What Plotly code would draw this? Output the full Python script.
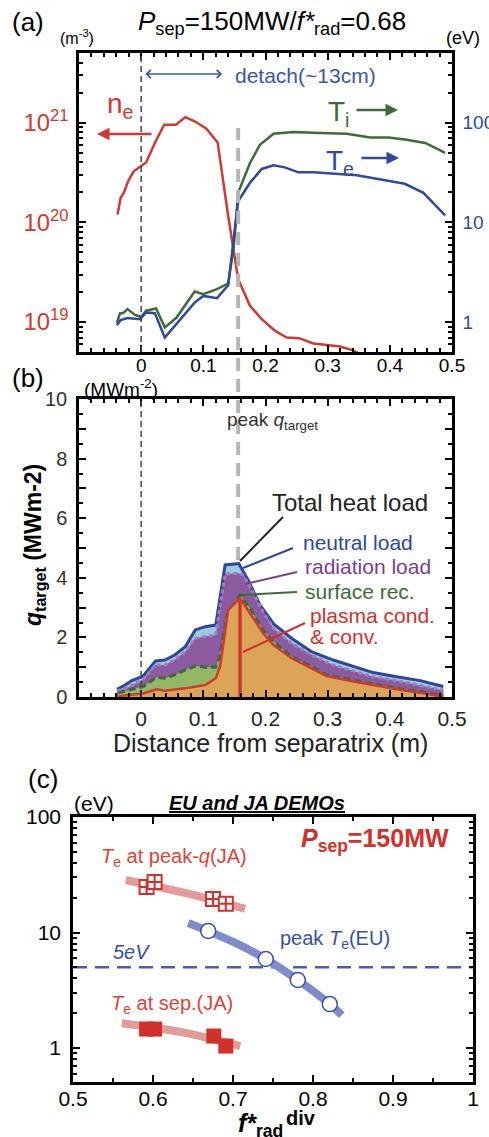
import plotly.graph_objects as go

W, H = 489, 1137
FONT = "Liberation Sans, Arial, sans-serif"
RED = "#cc3a33"
GREEN = "#3f6b37"
BLUE = "#2f4a9c"

# ---------------- Panel (a) data ----------------
x_ne = [-0.038, -0.033, -0.028, -0.021, -0.012, 0.0, 0.008, 0.022, 0.037, 0.056, 0.071, 0.087,
        0.105, 0.123, 0.140, 0.156, 0.175, 0.194, 0.215, 0.234, 0.254, 0.277, 0.298, 0.320, 0.341, 0.360]
ne = [1.2e20, 1.77e20, 1.98e20, 2.59e20, 3.26e20, 3.66e20, 4.0e20, 6.27e20, 9.55e20, 9.55e20, 1.14e21, 1.03e21,
      8.7e20, 6.35e20, 1.16e20, 2.7e19, 1.46e19, 1.07e19, 8.2e18, 7.0e18, 6.9e18, 6.1e18, 5.9e18, 5.7e18, 5.2e18, 4.5e18]

x_ti = [-0.039, -0.034, -0.029, -0.022, -0.010, 0.0, 0.008, 0.024, 0.038, 0.057, 0.086, 0.100, 0.122,
        0.140, 0.149, 0.156, 0.175, 0.191, 0.213, 0.245, 0.288, 0.331, 0.368, 0.398, 0.427, 0.457, 0.489]
ti = [0.98, 1.23, 1.23, 1.35, 1.18, 1.13, 1.30, 1.37, 0.885, 1.11, 2.03, 1.91, 2.14,
      2.44, 5.8, 19.8, 39.5, 60, 77.6, 80.7, 78.9, 77.6, 71.3, 71.3, 67.6, 62.7, 49.8]

x_te = [-0.039, -0.033, -0.022, -0.002, 0.008, 0.022, 0.038, 0.057, 0.086, 0.100, 0.122, 0.140,
        0.156, 0.175, 0.194, 0.213, 0.231, 0.253, 0.277, 0.347, 0.384, 0.424, 0.454, 0.489]
te = [0.93, 1.05, 1.10, 1.07, 1.25, 1.23, 0.70, 0.955, 1.57, 1.83, 1.74, 2.34,
      16.3, 25, 34.4, 37.4, 35.7, 31.8, 31.8, 29.7, 26.9, 24.4, 19.8, 11.8]

x_peak_q = 0.156
x_separatrix = 0.0

# ---------------- Panel (b) data (cumulative heat-load boundaries, MW/m2) ----------------
x_total = [-0.039, -0.026, -0.015, -0.005, 0.003, 0.023, 0.038, 0.054, 0.071, 0.087, 0.103, 0.120,
           0.135, 0.157, 0.172, 0.191, 0.213, 0.242, 0.274, 0.309, 0.344, 0.373, 0.411, 0.449, 0.486]
q_total = [0.26, 0.40, 0.55, 0.63, 0.70, 1.21, 1.24, 1.41, 1.69, 2.25, 2.36, 2.42,
           4.43, 4.48, 3.93, 3.09, 2.45, 1.97, 1.52, 1.24, 1.02, 0.82, 0.68, 0.55, 0.35]

x_rad = [-0.039, -0.021, 0.003, 0.023, 0.038, 0.054, 0.071, 0.087, 0.103, 0.120, 0.135, 0.157,
         0.164, 0.175, 0.196, 0.213, 0.242, 0.274, 0.309, 0.344, 0.373, 0.411, 0.449, 0.486]
q_rad = [0.20, 0.33, 0.59, 1.07, 1.07, 1.25, 1.52, 1.97, 2.03, 2.08, 4.13, 4.15,
         4.09, 3.70, 2.86, 2.30, 1.80, 1.41, 1.07, 0.85, 0.68, 0.55, 0.40, 0.23]

x_surf = [-0.037, -0.021, 0.003, 0.025, 0.038, 0.054, 0.071, 0.087, 0.103, 0.120, 0.127, 0.138, 0.146,
          0.159, 0.175, 0.196, 0.213, 0.242, 0.274, 0.298, 0.344, 0.373, 0.411, 0.449, 0.486]
q_surf = [0.14, 0.23, 0.35, 0.66, 0.63, 0.74, 0.91, 1.04, 1.0, 1.0, 1.41, 2.75, 3.03,
          3.42, 2.98, 2.25, 1.86, 1.35, 1.02, 0.74, 0.55, 0.44, 0.29, 0.18, 0.03]

x_plasma = [-0.037, -0.021, 0.003, 0.025, 0.038, 0.071, 0.103, 0.120, 0.127, 0.140, 0.159,
            0.175, 0.196, 0.213, 0.242, 0.274, 0.298, 0.344, 0.373, 0.411, 0.449, 0.486]
q_plasma = [0.01, 0.07, 0.12, 0.26, 0.21, 0.29, 0.40, 0.63, 1.02, 2.92, 3.31,
            2.81, 2.14, 1.74, 1.30, 0.96, 0.70, 0.51, 0.40, 0.26, 0.14, 0.01]

# ---------------- Panel (c) data ----------------
frad_peakq = [0.592, 0.602, 0.675, 0.691]
te_peakq = [24.8, 27.4, 19.5, 17.7]
trend_peakq_x = [0.566, 0.640, 0.715]
trend_peakq_y = [28.5, 22.0, 16.0]

frad_eu = [0.669, 0.741, 0.781, 0.821]
te_eu = [10.3, 5.9, 3.88, 2.4]
trend_eu_x = [0.644, 0.669, 0.705, 0.741, 0.781, 0.821, 0.836]
trend_eu_y = [12.1, 10.3, 8.0, 5.9, 3.88, 2.4, 1.93]

frad_sep = [0.592, 0.602, 0.676, 0.691]
te_sep = [1.46, 1.46, 1.27, 1.04]
trend_sep_x = [0.561, 0.634, 0.709]
trend_sep_y = [1.64, 1.38, 1.04]

te_threshold = 5.0


def PX(x):
    return x / W


def PY(y):
    return 1 - y / H


fig = go.Figure()

# ---- panel (a) traces ----
fig.add_trace(go.Scatter(x=x_ne, y=ne, mode="lines", line=dict(color=RED, width=2.5),
                         xaxis="x", yaxis="y"))
fig.add_trace(go.Scatter(x=x_ti, y=ti, mode="lines", line=dict(color=GREEN, width=2.5),
                         xaxis="x", yaxis="y2"))
fig.add_trace(go.Scatter(x=x_te, y=te, mode="lines", line=dict(color=BLUE, width=2.5),
                         xaxis="x", yaxis="y2"))

# ---- panel (b) traces (drawn top layer first so lower layers overlay) ----
fig.add_trace(go.Scatter(x=x_total, y=q_total, mode="lines", fill="tozeroy",
                         fillcolor="#9bcae2", line=dict(color="#2d479a", width=3),
                         xaxis="x2", yaxis="y3"))
fig.add_trace(go.Scatter(x=x_rad, y=q_rad, mode="lines", fill="tozeroy",
                         fillcolor="#8c5a9e", line=dict(color="#a27ebb", width=3, dash="4px,3px"),
                         xaxis="x2", yaxis="y3"))
fig.add_trace(go.Scatter(x=x_surf, y=q_surf, mode="lines", fill="tozeroy",
                         fillcolor="#93b865", line=dict(color="#3c6a3a", width=3, dash="7px,4px"),
                         xaxis="x2", yaxis="y3"))
fig.add_trace(go.Scatter(x=x_plasma, y=q_plasma, mode="lines", fill="tozeroy",
                         fillcolor="#dca456", line=dict(color="#cf3a2f", width=2.5),
                         xaxis="x2", yaxis="y3"))
ipk = q_plasma.index(max(q_plasma))
fig.add_trace(go.Scatter(x=[x_plasma[ipk], x_plasma[ipk]], y=[0, q_plasma[ipk]], mode="lines",
                         line=dict(color="#cf3a2f", width=3.5), xaxis="x2", yaxis="y3"))

# ---- panel (c) traces ----
fig.add_trace(go.Scatter(x=[0.5, 1.0], y=[te_threshold, te_threshold], mode="lines",
                         line=dict(color="#4a5db3", width=2.5, dash="14px,8px"), xaxis="x3", yaxis="y4"))
fig.add_trace(go.Scatter(x=trend_peakq_x, y=trend_peakq_y, mode="lines", line_shape="spline",
                         line=dict(color="#e39a98", width=8), xaxis="x3", yaxis="y4"))
fig.add_trace(go.Scatter(x=trend_sep_x, y=trend_sep_y, mode="lines", line_shape="spline",
                         line=dict(color="#e39a98", width=8), xaxis="x3", yaxis="y4"))
fig.add_trace(go.Scatter(x=trend_eu_x, y=trend_eu_y, mode="lines", line_shape="spline",
                         line=dict(color="#7f8cc9", width=8), xaxis="x3", yaxis="y4"))
fig.add_trace(go.Scatter(x=frad_peakq, y=te_peakq, mode="markers",
                         marker=dict(symbol="square-cross", size=14, color="white",
                                     line=dict(color="#d0312d", width=2)), xaxis="x3", yaxis="y4"))
fig.add_trace(go.Scatter(x=frad_sep, y=te_sep, mode="markers",
                         marker=dict(symbol="square", size=15, color="#d0312d",
                                     line=dict(color="#d0312d", width=0)), xaxis="x3", yaxis="y4"))
fig.add_trace(go.Scatter(x=frad_eu, y=te_eu, mode="markers",
                         marker=dict(symbol="circle", size=15, color="white",
                                     line=dict(color="#3a4fa0", width=1.5)), xaxis="x3", yaxis="y4"))

axis_common = dict(showline=True, linecolor="black", linewidth=2.5, ticks="inside", tickcolor="black",
                   tickwidth=2, ticklen=7, showgrid=False, zeroline=False, automargin=False)
minor_common = dict(ticks="inside", ticklen=4, tickwidth=1.5, tickcolor="black", showgrid=False)

xa_dom = [79 / W, 452 / W]
xtv = [-0.1, 0, 0.1, 0.2, 0.3, 0.4, 0.5]
xtt = ["", "0", "0.1", "0.2", "0.3", "0.4", "0.5"]

fig.update_layout(
    width=W, height=H, autosize=False, margin=dict(l=0, r=0, t=0, b=0, autoexpand=False),
    paper_bgcolor="white", plot_bgcolor="white", showlegend=False,
    font=dict(family=FONT, color="black"),
    xaxis=dict(axis_common, domain=xa_dom, anchor="y", range=[-0.1, 0.5], tickmode="array",
               tickvals=xtv, ticktext=xtt, mirror="ticks", ticklabelstandoff=-6,
               minor=dict(minor_common, dtick=0.02, tick0=0),
               tickfont=dict(size=19, color="black")),
    yaxis=dict(axis_common, domain=[PY(352), PY(53)], anchor="x", type="log", range=[18.7, 21.7],
               dtick=1, exponentformat="power", side="left", ticklabelstandoff=4,
               minor=dict(minor_common, dtick="D1"), tickfont=dict(size=19, color=RED)),
    yaxis2=dict(axis_common, overlaying="y", anchor="x", side="right", type="log", range=[-0.3, 2.7],
                dtick=1, ticklabelstandoff=4, minor=dict(minor_common, dtick="D1"),
                tickfont=dict(size=19, color=BLUE)),
    xaxis2=dict(axis_common, domain=xa_dom, anchor="y3", range=[-0.1, 0.5], tickmode="array",
                tickvals=xtv, ticktext=xtt, mirror="ticks", ticklabelstandoff=1,
                minor=dict(minor_common, dtick=0.02, tick0=0),
                tickfont=dict(size=21, color="#222")),
    yaxis3=dict(axis_common, domain=[PY(697), PY(399)], anchor="x2", range=[0, 10], tickmode="array",
                tickvals=list(range(0, 11)),
                ticktext=[str(v) if v % 2 == 0 else "" for v in range(0, 11)],
                mirror="ticks", ticklabelstandoff=5, minor=dict(minor_common, dtick=0.5, tick0=0),
                tickfont=dict(size=20, color="#333")),
    xaxis3=dict(axis_common, domain=[73 / W, 473 / W], anchor="y4", range=[0.5, 1.0], dtick=0.1,
                tick0=0.5, mirror="ticks", ticklabelstandoff=-4,
                minor=dict(minor_common, dtick=0.05, tick0=0.5),
                tickfont=dict(size=21, color="black")),
    yaxis4=dict(axis_common, domain=[PY(1082), PY(817)], anchor="x3", type="log", range=[-0.294, 2],
                dtick=1, mirror="ticks", ticklabelstandoff=5, minor=dict(minor_common, dtick="D1"),
                tickfont=dict(size=21, color="black")),
)

ann = []


def T(text, x, y, size, color="black", xanchor="center", yanchor="middle", angle=0):
    ann.append(dict(text=text, x=PX(x), y=PY(y), xref="paper", yref="paper", showarrow=False,
                    xanchor=xanchor, yanchor=yanchor, textangle=angle,
                    font=dict(family=FONT, size=size, color=color)))


def ARROW(hx, hy, tx, ty, color, width=2.5, head=2, size=1.0, both=False):
    ann.append(dict(text="", x=PX(hx), y=PY(hy), xref="paper", yref="paper", showarrow=True,
                    ax=tx - hx, ay=ty - hy, axref="pixel", ayref="pixel",
                    arrowcolor=color, arrowwidth=width, arrowhead=head, arrowsize=size,
                    startarrowhead=head, startarrowsize=size,
                    arrowside="end+start" if both else "end"))


# panel (a) text
T("(a)", 28, 22, 26)
T("(m<sup>-3</sup>)", 77, 37, 16)
T("<i>P</i><sub>sep</sub>=150MW/<i>f*</i><sub>rad</sub>=0.68", 272, 22, 26)
T("(eV)", 463, 38, 18)
T("detach(~13cm)", 305, 75, 21, "#3d55a8")
T("n<sub>e</sub>", 120, 106, 28, RED)
T("T<sub>i</sub>", 338, 114, 28, GREEN)
T("T<sub>e</sub>", 340, 162, 28, BLUE)
ARROW(97, 134, 153, 134, RED)
ARROW(222, 74, 144, 74, "#3d55a8", width=1.3, head=4, size=1.2, both=True)
ARROW(398, 110, 355, 110, GREEN)
ARROW(399, 158, 360, 158, BLUE)

# panel (b) text
T("(b)", 28, 378, 26)
T("(MWm<sup>-2</sup>)", 121, 388, 19)
T("peak <i>q</i><sub>target</sub>", 272, 421, 19, "#333")
T("Total heat load", 270, 502, 24, "#222", xanchor="left")
T("neutral load", 301, 542, 21, "#2d479a", xanchor="left")
T("radiation load", 303, 566, 21, "#7b3d8f", xanchor="left")
T("surface rec.", 303, 591, 21, "#3c6b3a", xanchor="left")
T("plasma cond.", 308, 615, 21, "#d0312d", xanchor="left")
T("&amp; conv.", 308, 636, 21, "#d0312d", xanchor="left")
T("<b><i>q</i><sub>target</sub> (MWm-2)</b>", 34, 545, 23, angle=-90)
T("Distance from separatrix (m)", 270, 743, 25, "#222")

# panel (c) text
T("(c)", 43, 779, 26)
T("(eV)", 94, 803, 21)
T("<b><i><u>EU and JA DEMOs</u></i></b>", 257, 803, 20)
T("<b><i>P</i><sub>sep</sub>=150MW</b>", 375, 840, 25, "#d0312d")
T("<i>T</i><sub>e</sub> at peak-<i>q</i>(JA)", 174, 857, 20, "#d9453a")
T("peak <i>T</i><sub>e</sub>(EU)", 335, 939, 20, "#3a4fa0")
T("<i>5eV</i>", 131, 952, 20, "#3a4fa0")
T("<i>T</i><sub>e</sub> at sep.(JA)", 172, 1004, 20, "#d9453a")
T("<b><i>f*</i><sub>rad</sub></b>", 285, 1125, 25, xanchor="right")
T("<b>div</b>", 284, 1118, 20, xanchor="left")

shapes = []
# separatrix dashed lines (panel a and b)
shapes.append(dict(type="line", xref="x", yref="y domain", x0=x_separatrix, x1=x_separatrix, y0=0, y1=1,
                   line=dict(color="#444", width=1.5, dash="6px,4px")))
shapes.append(dict(type="line", xref="x2", yref="y3 domain", x0=x_separatrix, x1=x_separatrix, y0=0, y1=1,
                   line=dict(color="#444", width=1.5, dash="6px,4px")))
# peak q grey dashed line spanning panels
shapes.append(dict(type="line", xref="x", yref="paper", x0=x_peak_q, x1=x_peak_q, y0=PY(560), y1=PY(128),
                   line=dict(color="#b5b5b5", width=4, dash="13px,8px")))


def LEADER(x0, y0, x1, y1, color):
    shapes.append(dict(type="line", xref="paper", yref="paper", x0=PX(x0), y0=PY(y0), x1=PX(x1), y1=PY(y1),
                       line=dict(color=color, width=2)))


LEADER(283, 517, 240, 561, "#222")
LEADER(293, 548, 243, 568, "#2d479a")
LEADER(297, 572, 245, 584, "#7b3d8f")
LEADER(297, 592, 240, 595, "#3c6b3a")
LEADER(305, 623, 243, 652, "#d0312d")

fig.update_layout(annotations=ann, shapes=shapes)
fig.write_html("out.html", config={"displayModeBar": False},
               post_script="document.body.style.margin='0px';")
